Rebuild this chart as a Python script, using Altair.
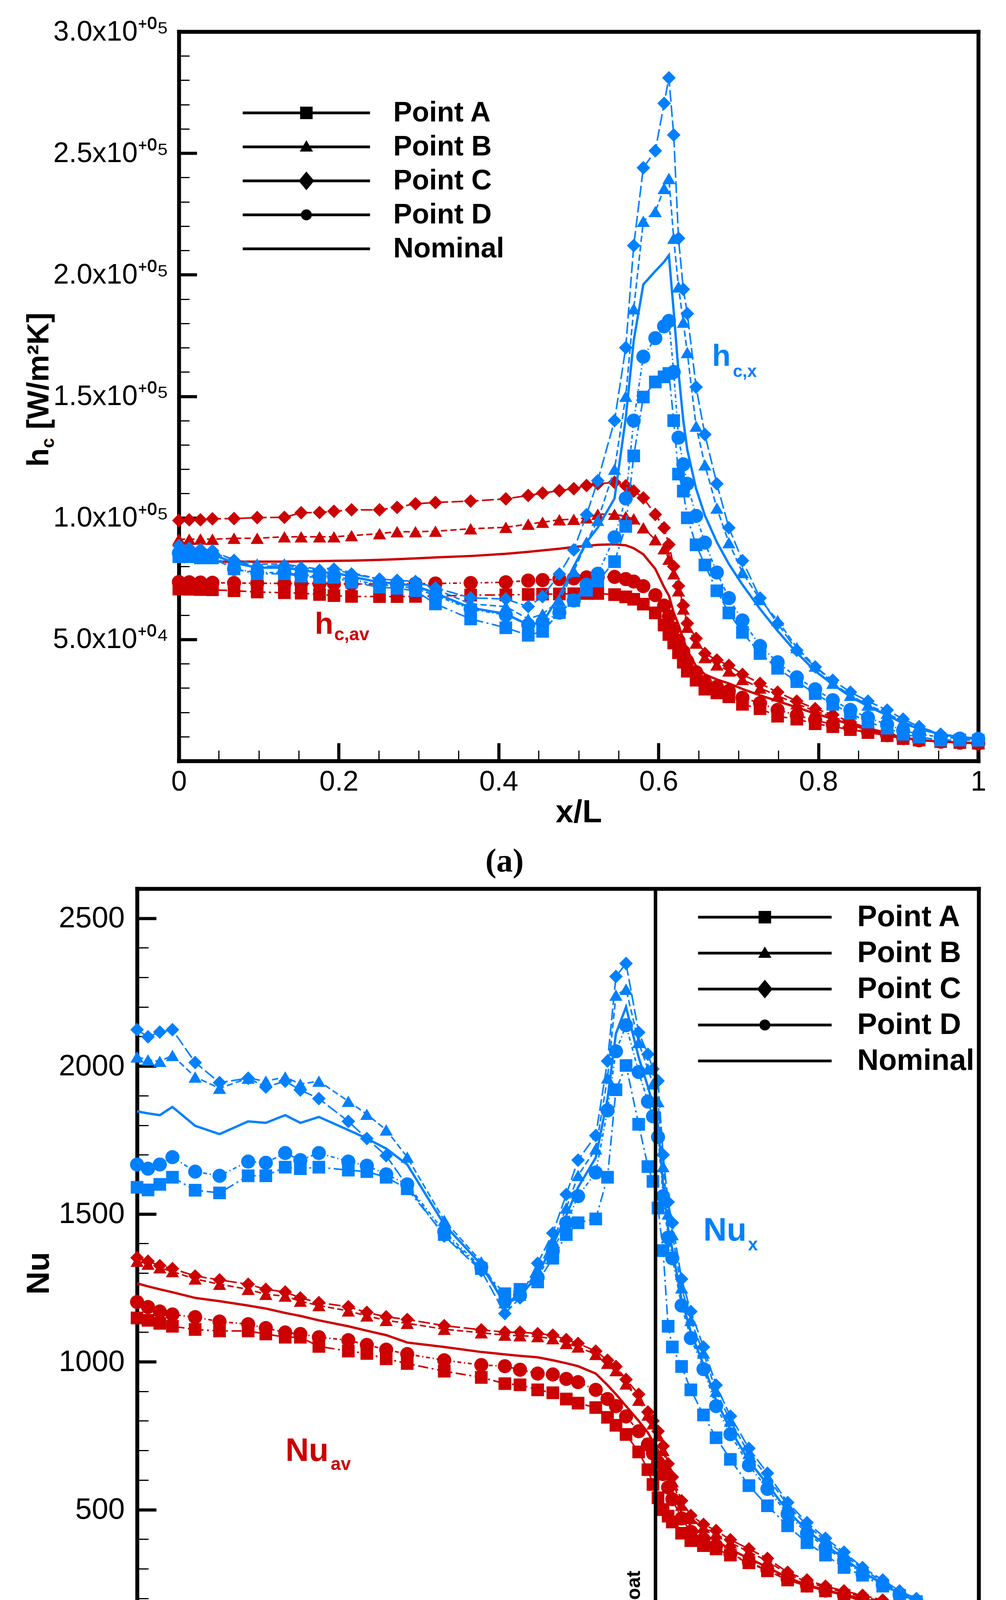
import altair as alt
import pandas as pd

# stations along the nozzle (x/L), shared by every curve
X = [0, 0.013, 0.027, 0.042, 0.069, 0.098, 0.132, 0.153, 0.176, 0.194,
     0.216, 0.251, 0.273, 0.296, 0.321, 0.365, 0.409, 0.437, 0.455, 0.476,
     0.494, 0.51, 0.524, 0.545, 0.559, 0.569, 0.581, 0.596, 0.607, 0.613,
     0.619, 0.625, 0.631, 0.636, 0.647, 0.658, 0.673, 0.688, 0.705, 0.727,
     0.749, 0.773, 0.796, 0.818, 0.84, 0.862, 0.886, 0.906, 0.926, 0.953,
     0.977, 1.0]

SERIES = ["Point A", "Point B", "Point C", "Point D", "Nominal"]
MARKED = SERIES[:4]

# (a) local heat transfer coefficient h_c,x [W/m2K]
HX = {
    "Point A": [84000, 84000, 83500, 83500, 79000, 77000, 77000, 76000, 75500, 75500,
                73500, 71500, 71000, 70000, 64600, 58400, 54800, 51700, 53300, 61000,
                66000, 70200, 74000, 82000, 96500, 125500, 149700, 155900, 158000, 159400,
                140000, 118000, 111000, 100000, 88900, 80600, 70000, 60900, 52900, 44200,
                38100, 32600, 27700, 23300, 19600, 16000, 13500, 11000, 9800, 8600,
                8600, 8500],
    "Point B": [86500, 86000, 86000, 85500, 83000, 81000, 81000, 79900, 78900, 79400,
                77400, 74800, 74300, 73800, 70700, 64600, 63500, 58400, 60400, 66000,
                78000, 90000, 99000, 120000, 150000, 186000, 222000, 226000, 235500, 239600,
                215000, 195000, 180500, 168000, 137700, 121800, 104000, 89800, 77500, 66400,
                57800, 46600, 39000, 32000, 27000, 23000, 19600, 16200, 13500, 10600,
                9200, 9100],
    "Point C": [88500, 87500, 87000, 86500, 82500, 79900, 80400, 79400, 78400, 78900,
                76900, 74800, 74300, 73800, 71200, 67100, 66600, 63500, 67600, 76900,
                86800, 101300, 115300, 140000, 170000, 212000, 244000, 251000, 270500, 281000,
                257500, 215000, 194000, 184000, 153800, 134300, 114000, 95900, 82400, 67000,
                56500, 45500, 38700, 33200, 28300, 24600, 20900, 17200, 14100, 11000,
                9200, 9200],
    "Point D": [85500, 85000, 85000, 84500, 79000, 77500, 77500, 76500, 76000, 76000,
                74500, 72500, 72000, 71000, 68000, 62500, 60000, 56000, 57000, 61000,
                66000, 72500, 77000, 92000, 108000, 140000, 166300, 173900, 178800, 181000,
                160000, 133000, 122000, 114000, 100800, 89800, 77500, 67000, 57800, 47300,
                40600, 34400, 29500, 25000, 21000, 17800, 15000, 12500, 11000, 9800,
                9200, 9100],
    "Nominal": [86000, 85500, 85500, 85000, 81500, 79500, 79500, 78500, 77500, 77500,
                75800, 73500, 73000, 72000, 69000, 63000, 60500, 56000, 57000, 68000,
                80000, 90000, 96000, 108000, 141000, 173000, 196000, 201500, 205300, 208000,
                185000, 160000, 140000, 128000, 112000, 101000, 90000, 81000, 72500, 62500,
                53500, 44500, 37000, 31500, 26500, 22500, 18800, 15500, 13200, 11000,
                9800, 9200],
}

# (a) averaged heat transfer coefficient h_c,av [W/m2K]
HAV = {
    "Point A": [70700, 70600, 70500, 70400, 70000, 69500, 69200, 69000, 68500, 68000,
                67700, 67600, 67600, 67700, 67800, 68200, 68300, 68500, 68600, 68700,
                68800, 68900, 68900, 68400, 67500, 66500, 64500, 60900, 55900, 52000,
                48500, 44500, 40600, 36900, 33200, 29500, 28000, 26400, 23300, 21500,
                18400, 17200, 15300, 14100, 12900, 11700, 10400, 9200, 8600, 8000,
                7600, 7300],
    "Point B": [91200, 91200, 91300, 91200, 91600, 91600, 92200, 92200, 92200, 92200,
                92700, 93500, 94300, 94300, 94500, 95500, 96100, 97400, 98200, 99200,
                99400, 100000, 101500, 101500, 100500, 99600, 95900, 91000, 87300, 83000,
                77000, 70000, 62500, 55000, 48500, 42500, 39500, 37000, 33500, 30000,
                26800, 23500, 20500, 18200, 15500, 13000, 11300, 9600, 8500, 7900,
                7500, 7200],
    "Point C": [98900, 99200, 99200, 99600, 99700, 100100, 100200, 102100, 102200, 102700,
                103300, 103300, 104300, 105800, 106300, 106900, 107800, 109200, 110200, 111200,
                112000, 113300, 114000, 114600, 113200, 111000, 108200, 101400, 95900, 89000,
                80000, 72000, 64000, 56600, 50400, 44200, 41500, 39300, 35600, 31900,
                28300, 24600, 21500, 19000, 16000, 13500, 11700, 9800, 8600, 8000,
                7600, 7300],
    "Point D": [73600, 73500, 73400, 73300, 73200, 73100, 73000, 73000, 72900, 72900,
                72800, 72800, 72800, 72900, 73000, 73200, 73500, 74200, 74400, 74800,
                75100, 75500, 75700, 75700, 74800, 73800, 71900, 68200, 63900, 59500,
                54500, 49500, 45000, 41000, 36500, 32500, 30500, 28800, 26000, 23800,
                21000, 18800, 16800, 15000, 13400, 12000, 10600, 9400, 8500, 7900,
                7500, 7200],
    "Nominal": [82000, 82000, 82000, 82000, 82000, 82000, 82000, 82100, 82200, 82300,
                82400, 82700, 83000, 83300, 83700, 84300, 85200, 86000, 86600, 87300,
                88000, 88500, 88900, 89100, 88700, 87500, 85000, 79000, 71500, 68000,
                61000, 56000, 50000, 45500, 39000, 35600, 33500, 31900, 29600, 27000,
                24600, 22000, 19500, 17300, 15000, 12800, 11000, 9600, 8600, 8000,
                7600, 7300],
}

# (b) local Nusselt number Nu_x
NUX = {
    "Point A": [1590, 1581, 1600, 1624, 1580, 1571, 1629, 1629, 1658, 1653,
                1658, 1648, 1643, 1624, 1585, 1430, 1315, 1230, 1245, 1270,
                1350, 1430, 1470, 1483, 1624, 1920, 2002, 1803, 1660, 1610,
                1520, 1376, 1120, 1050, 984, 905, 820, 743, 670, 581,
                513, 445, 388, 346, 304, 278, 241, 210, 189, 152,
                150, 150],
    "Point B": [2031, 2021, 2016, 2036, 1963, 1925, 1959, 1949, 1963, 1939,
                1949, 1881, 1837, 1784, 1692, 1478, 1338, 1200, 1225, 1310,
                1410, 1520, 1630, 1720, 1960, 2240, 2260, 2080, 1990, 1940,
                1880, 1660, 1500, 1430, 1250, 1140, 1030, 900, 800, 690,
                610, 515, 447, 395, 348, 298, 257, 221, 196, 166,
                152, 151],
    "Point C": [2123, 2099, 2115, 2123, 2012, 1944, 1959, 1929, 1949, 1919,
                1890, 1813, 1755, 1697, 1595, 1425, 1308, 1163, 1216, 1333,
                1435, 1566, 1682, 1765, 2017, 2303, 2347, 2114, 2040, 1990,
                1950, 1700, 1540, 1470, 1280, 1170, 1050, 921, 816, 707,
                623, 524, 456, 403, 356, 304, 262, 225, 199, 168,
                152, 152],
    "Point D": [1667, 1653, 1667, 1692, 1643, 1629, 1677, 1673, 1706, 1682,
                1706, 1677, 1663, 1634, 1600, 1440, 1320, 1205, 1225, 1285,
                1375, 1470, 1560, 1640, 1850, 2050, 2138, 1980, 1880, 1830,
                1760, 1560, 1420, 1350, 1190, 1080, 975, 850, 755, 650,
                570, 485, 420, 372, 328, 282, 245, 212, 190, 162,
                152, 151],
    "Nominal": [1847, 1840, 1834, 1862, 1798, 1770, 1813, 1808, 1834, 1808,
                1828, 1784, 1755, 1721, 1667, 1464, 1328, 1195, 1220, 1295,
                1395, 1495, 1590, 1690, 1890, 2110, 2200, 2030, 1930, 1870,
                1800, 1600, 1450, 1380, 1210, 1100, 990, 870, 770, 665,
                585, 495, 430, 380, 335, 288, 250, 215, 192, 163,
                152, 151],
}

# (b) averaged Nusselt number Nu_av
NUAV = {
    "Point A": [1148, 1140, 1130, 1120, 1109, 1104, 1104, 1094, 1083, 1083,
                1052, 1036, 1028, 1010, 994, 968, 947, 926, 922, 905,
                895, 874, 860, 845, 812, 785, 754, 695, 635, 585,
                540, 500, 478, 458, 420, 395, 378, 367, 346, 320,
                293, 262, 241, 225, 210, 189, 173, 163, 157, 147,
                142, 140],
    "Point B": [1340, 1330, 1318, 1305, 1280, 1262, 1245, 1228, 1222, 1205,
                1190, 1172, 1155, 1140, 1130, 1110, 1098, 1090, 1088, 1085,
                1078, 1062, 1050, 1025, 995, 970, 925, 870, 820, 790,
                750, 700, 640, 595, 515, 470, 440, 418, 388, 357,
                326, 282, 256, 236, 220, 205, 190, 175, 160, 146,
                142, 140],
    "Point C": [1352, 1340, 1325, 1315, 1290, 1277, 1262, 1245, 1236, 1216,
                1200, 1186, 1167, 1152, 1143, 1122, 1108, 1100, 1100, 1095,
                1090, 1075, 1062, 1036, 1005, 984, 940, 890, 830, 800,
                765, 715, 655, 610, 530, 480, 450, 429, 398, 367,
                335, 288, 262, 241, 225, 210, 194, 178, 163, 147,
                143, 140],
    "Point D": [1202, 1185, 1170, 1160, 1151, 1136, 1127, 1114, 1099, 1094,
                1083, 1073, 1057, 1041, 1026, 1005, 989, 985, 973, 960,
                957, 942, 931, 905, 874, 850, 815, 765, 720, 690,
                660, 620, 575, 535, 470, 425, 400, 378, 350, 322,
                296, 265, 243, 226, 210, 195, 180, 167, 157, 146,
                142, 140],
    "Nominal": [1265, 1255, 1245, 1235, 1216, 1205, 1190, 1180, 1165, 1155,
                1140, 1120, 1105, 1090, 1065, 1050, 1033, 1025, 1020, 1015,
                1005, 995, 985, 960, 921, 890, 850, 800, 760, 730,
                700, 655, 600, 560, 490, 445, 415, 395, 365, 335,
                305, 270, 245, 228, 212, 198, 184, 170, 158, 146,
                142, 140],
}

THROAT = 0.616

BLUE = "#0080FF"
RED = "#CC0000"
FONT = "Liberation Sans"
SERIF = "Liberation Serif"

DASHES = [[26, 9, 5, 9], [16, 8], [30, 9], [10, 7, 3, 7]]
SHAPES = ["square", "triangle-up", "diamond", "circle"]
SIZES = [1050, 1300, 2000, 900]


def tidy(local, average):
    rows = []
    for grp, curves in (("av", average), ("x", local)):
        for name, ys in curves.items():
            for xv, yv in zip(X, ys):
                rows.append({"x": xv, "y": yv, "grp": grp, "series": name})
    return pd.DataFrame(rows)


def marker_paths(half):
    # filled legend markers, in the unit space of a custom Vega symbol
    def u(v):
        return f"{v / half:.4f}"
    sq = 16
    tw, tt, tb = 17, 17, 12
    dw, dh = 20, 24
    r = 14
    return [
        f"M-{u(sq)},-{u(sq)}L{u(sq)},-{u(sq)}L{u(sq)},{u(sq)}L-{u(sq)},{u(sq)}Z",
        f"M0,-{u(tt)}L{u(tw)},{u(tb)}L-{u(tw)},{u(tb)}Z",
        f"M0,-{u(dh)}L{u(dw)},0L0,{u(dh)}L-{u(dw)},0Z",
        f"M-{u(r)},0A{u(r)},{u(r)} 0 1,0 {u(r)},0A{u(r)},{u(r)} 0 1,0 -{u(r)},0Z",
        "M0,0",
    ]


def px_text(text, px, py, size, angle=0, align="center", baseline="alphabetic",
            font=FONT, weight="bold", color="black"):
    return alt.Chart(pd.DataFrame({"k": [0]})).mark_text(
        text=text, fontSize=size, angle=angle, align=align, baseline=baseline,
        font=font, fontWeight=weight, color=color
    ).encode(x=alt.value(px), y=alt.value(py))


def note(text, xv, yv, size, color, xs, ys, angle=0, align="left", baseline="alphabetic"):
    return alt.Chart(pd.DataFrame({"tx": [xv], "ty": [yv]})).mark_text(
        text=text, fontSize=size, angle=angle, align=align, baseline=baseline,
        font=FONT, fontWeight="bold", color=color
    ).encode(x=alt.X("tx:Q", scale=xs, axis=None), y=alt.Y("ty:Q", scale=ys, axis=None))


def axis(**kw):
    base = dict(grid=False, tickColor="black", domainColor="black", labelColor="black",
                labelFont=FONT, labelLimit=1000, labelOverlap=False, titleColor="black",
                titleFont=FONT, titleFontWeight="bold")
    base.update(kw)
    return alt.Axis(**base)


def panel(df, cfg, extras):
    sh, W, H = cfg["shift"], cfg["width"], cfg["height"]
    xs = alt.Scale(domain=[0, 1], range=[sh, sh + W], nice=False, zero=False)
    ys = alt.Scale(domain=[0, cfg["ymax"]], nice=False, zero=False)
    layers = []
    for grp, col in (("av", RED), ("x", BLUE)):
        sub = df[df.grp == grp]
        pts = sub[sub.series != "Nominal"]
        nom = sub[sub.series == "Nominal"]
        enc = dict(x=alt.X("x:Q", scale=xs, axis=None), y=alt.Y("y:Q", scale=ys, axis=None))
        layers.append(alt.Chart(pts).mark_line(color=col, strokeWidth=cfg["lw"]).encode(
            strokeDash=alt.StrokeDash("series:N", scale=alt.Scale(domain=MARKED, range=DASHES), legend=None),
            **enc))
        layers.append(alt.Chart(nom).mark_line(color=col, strokeWidth=cfg["nw"]).encode(**enc))
        layers.append(alt.Chart(pts).mark_point(filled=True, opacity=1, color=col).encode(
            shape=alt.Shape("series:N", scale=alt.Scale(domain=MARKED, range=SHAPES), legend=None),
            size=alt.Size("series:N", scale=alt.Scale(domain=MARKED, range=SIZES), legend=None),
            **enc))

    maj, mnr = cfg["major"], cfg["minor"]
    frame = dict(domain=True, domainWidth=10, domainCap="square", ticks=False, tickSize=0)

    # frame (bottom/left) with tick labels and titles
    ylab = dict(orient="left", offset=-sh, values=cfg["ymaj"], labelFontSize=cfg["lfs"],
                labelPadding=cfg["ylp"], **frame)
    if "ylabel" in cfg:
        ylab["labelExpr"] = cfg["ylabel"]
    else:
        ylab["format"] = "d"
    if "ytitle" in cfg:
        ylab.update(title=cfg["ytitle"], titleFontSize=82, titleAngle=270,
                    titleBaseline="alphabetic", titleX=cfg["ytx"], titleY=H / 2)
    else:
        ylab["title"] = ""
    layers.append(alt.Chart(df).mark_point(opacity=0).encode(
        x=alt.X("x:Q", scale=xs, axis=axis(
            orient="bottom", offset=0, values=cfg["xmaj"], labelFontSize=cfg["lfs"],
            labelPadding=cfg["xlp"], labelFlush=False, format="~g", title="x/L",
            titleFontSize=cfg["xtfs"], titleBaseline="alphabetic", titleY=cfg["xty"], **frame)),
        y=alt.Y("y:Q", scale=ys, axis=axis(**ylab))))
    # frame (top/right)
    layers.append(alt.Chart(df).mark_point(opacity=0).encode(
        x=alt.X("x:Q", scale=xs, axis=axis(orient="top", offset=0, labels=False, title="", **frame)),
        y=alt.Y("y:Q", scale=ys, axis=axis(orient="right", offset=0, labels=False, title="", **frame))))
    # inward major and minor ticks
    for length, width, xv, yv in ((maj, 8, cfg["xmaj"], cfg["ymaj"]), (mnr, 3, cfg["xmin"], cfg["ymin"])):
        layers.append(alt.Chart(df).mark_point(opacity=0).encode(
            x=alt.X("x:Q", scale=xs, axis=axis(
                orient="bottom", values=xv, offset=-length, tickSize=length, tickWidth=width,
                domain=False, labels=False, title="")),
            y=alt.Y("y:Q", scale=ys, axis=axis(
                orient="left", values=yv, offset=-(sh + length), tickSize=length, tickWidth=width,
                domain=False, labels=False, title=""))))

    # legend: a line symbol with the labels, and the markers drawn on top of it
    leg = cfg["legend"]
    empty = pd.DataFrame({"entry": pd.Series([], dtype="object")})
    common = dict(orient="none", legendX=leg["x"], legendY=leg["y"], direction="vertical",
                  title="", padding=0, labelFont=FONT, labelFontSize=leg["fs"],
                  labelFontWeight="bold", labelColor="black", labelLimit=1000,
                  clipHeight=leg["row"], rowPadding=leg["gap"])
    layers.append(alt.Chart(empty).mark_point(
        filled=False, color="black", strokeWidth=7, opacity=1
    ).encode(shape=alt.Shape(
        "entry:N", scale=alt.Scale(domain=SERIES, range=["M-1,0L1,0"] * 5),
        legend=alt.Legend(symbolSize=leg["len"] ** 2, symbolStrokeWidth=7, symbolStrokeColor="black",
                          symbolOffset=0, labelOffset=leg["lo"], **common))))
    msz = 60
    layers.append(alt.Chart(empty).mark_point(
        filled=True, color="black", opacity=1
    ).encode(shape=alt.Shape(
        "entry:N", scale=alt.Scale(domain=SERIES, range=marker_paths(msz / 2)),
        legend=alt.Legend(symbolSize=msz ** 2, symbolStrokeWidth=0,
                          symbolOffset=(leg["len"] + 7) / 2 - leg["fs"] / 2,
                          labelOffset=leg["lo"], labelExpr="''", **common))))

    for ex in extras(xs, ys):
        layers.append(ex)

    return alt.layer(*layers).resolve_scale(shape="independent").resolve_axis(
        x="independent", y="independent"
    ).properties(width=sh + W, height=H, view=alt.ViewBackground(strokeWidth=0))


df_a = tidy(HX, HAV)
df_b = tidy(NUX, NUAV)

SHIFT_A = 107

cfg_a = dict(
    shift=SHIFT_A, width=2047, height=1867, ymax=300000, major=46, minor=27, lfs=72,
    xlp=18, ylp=27, xtfs=82, xty=156, lw=4, nw=6,
    xmaj=[0, 0.2, 0.4, 0.6, 0.8, 1.0],
    xmin=[round(i * 0.05, 2) for i in range(1, 20) if i % 4],
    ymaj=[50000, 100000, 150000, 200000, 250000, 300000],
    ymin=[i * 10000 for i in range(1, 30) if i % 5],
    ylabel="format(datum.value / (datum.value < 100000 ? 10000 : 100000), '.1f') + 'x10' + "
           "(datum.value < 100000 ? '\u207a\u2070\u2074' : '\u207a\u2070\u2075')",
    legend=dict(x=SHIFT_A + 160, y=172, len=326, lo=56, fs=72, row=72, gap=15),
)

cfg_b = dict(
    shift=0, width=2155, height=1968, ymax=2600, major=49, minor=29, lfs=76,
    xlp=20, ylp=32, xtfs=80, xty=161, ytitle="Nu", ytx=-227, lw=4, nw=6,
    xmaj=[round(i * 0.1, 1) for i in range(11)],
    xmin=[round(i * 0.02, 2) for i in range(1, 50) if i % 5],
    ymaj=[0, 500, 1000, 1500, 2000, 2500],
    ymin=[i * 100 for i in range(1, 26) if i % 5],
    legend=dict(x=1433, y=35, len=342, lo=62, fs=76, row=76, gap=16),
)


def extras_a(xs, ys):
    return [
        note("h", 0.667, 162450, 78, BLUE, xs, ys),
        note("c,x", 0.693, 157950, 44, BLUE, xs, ys),
        note("h", 0.170, 52220, 78, RED, xs, ys),
        note("c,av", 0.1944, 49650, 46, RED, xs, ys),
        px_text("h", SHIFT_A - 334, 1114, 78, angle=270, align="left"),
        px_text("c", SHIFT_A - 320, 1066, 46, angle=270, align="left"),
        px_text("[W/m\u00b2K]", SHIFT_A - 334, 1018, 78, angle=270, align="left"),
        px_text("(a)", SHIFT_A + 834, 2125, 84, baseline="middle", font=SERIF),
    ]


def extras_b(xs, ys):
    throat = alt.Chart(pd.DataFrame({"tx": [THROAT]})).mark_rule(
        color="black", strokeWidth=9
    ).encode(x=alt.X("tx:Q", scale=xs, axis=None))
    return [
        throat,
        note("throat", 0.5905, 200, 50, "black", xs, ys, angle=270, align="center", baseline="middle"),
        note("Nu", 0.6729, 1410, 83, BLUE, xs, ys),
        note("x", 0.7258, 1377, 46, BLUE, xs, ys),
        note("Nu", 0.1763, 665, 83, RED, xs, ys),
        note("av", 0.2302, 634, 46, RED, xs, ys),
        px_text("(b)", 940, 2244, 84, baseline="middle", font=SERIF),
    ]


chart = alt.vconcat(
    panel(df_a, cfg_a, extras_a),
    panel(df_b, cfg_b, extras_b),
    spacing=22,
).properties(
    padding={"left": 50, "top": 37, "right": 10, "bottom": 10},
    background="white",
)

chart.save("out.html", embed_options={"renderer": "svg", "actions": False})
